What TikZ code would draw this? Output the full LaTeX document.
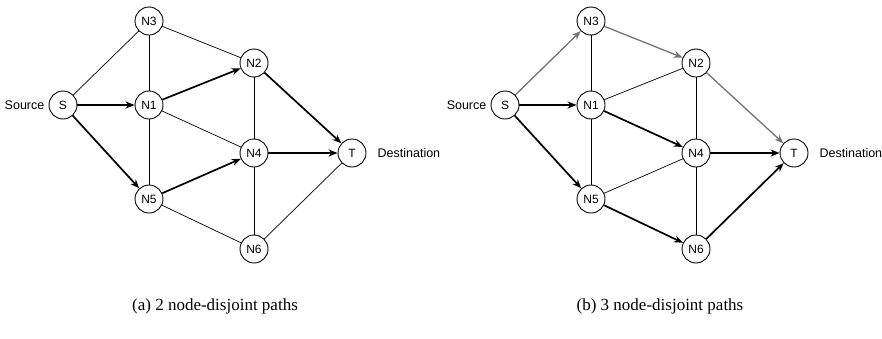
\documentclass[tikz,border=0pt]{standalone}
\usepackage{fontspec}
\setmainfont{Liberation Serif}
\newfontfamily\labelfont{Liberation Sans}
\usetikzlibrary{arrows.meta}
\begin{document}
\begin{tikzpicture}[x=1pt,y=-1pt,
  vertex/.style={circle,draw,line width=0.9pt,fill=white,minimum size=28pt,
    inner sep=0pt,font=\labelfont\fontsize{12}{13}\selectfont},
  link/.style={line width=0.7pt},
  route/.style={line width=1.7pt,-{Stealth[length=9pt,width=7pt]}},
  altroute/.style={line width=1.3pt,draw=black!55,
    -{Stealth[length=9pt,width=7pt]}},
  side/.style={font=\labelfont\fontsize{12.5}{14}\selectfont,inner sep=0pt},
  caption/.style={font=\fontsize{17}{20}\selectfont,inner sep=0pt}]
\useasboundingbox (0,0) rectangle (882,338);

% the same network is drawn in both panels; names carry the panel letter
\foreach \p/\dx in {a/0,b/442}{
  \begin{scope}[xshift=\dx]
    \node[vertex] (\p S)  at (63,105)  {S};
    \node[vertex] (\p N3) at (149,21)  {N3};
    \node[vertex] (\p N1) at (149,105) {N1};
    \node[vertex] (\p N5) at (149,199) {N5};
    \node[vertex] (\p N2) at (254,63)  {N2};
    \node[vertex] (\p N4) at (254,153) {N4};
    \node[vertex] (\p N6) at (254,249) {N6};
    \node[vertex] (\p T)  at (352,153) {T};
    \node[side,anchor=east] (\p src) at ([xshift=-4pt]\p S.west) {Source};
    \node[side,anchor=west] (\p dst) at ([xshift=11pt]\p T.east) {Destination};
  \end{scope}
}

% (a) two node-disjoint paths
\draw[link] (aS) -- (aN3);
\draw[link] (aN3) -- (aN1);
\draw[link] (aN3) -- (aN2);
\draw[link] (aN1) -- (aN5);
\draw[link] (aN1) -- (aN4);
\draw[link] (aN2) -- (aN4);
\draw[link] (aN4) -- (aN6);
\draw[link] (aN5) -- (aN6);
\draw[link] (aN6) -- (aT);
\draw[route] (aS) -- (aN1);
\draw[route] (aN1) -- (aN2);
\draw[route] (aN2) -- (aT);
\draw[route] (aS) -- (aN5);
\draw[route] (aN5) -- (aN4);
\draw[route] (aN4) -- (aT);

% (b) three node-disjoint paths
\draw[link] (bN3) -- (bN1);
\draw[link] (bN1) -- (bN2);
\draw[link] (bN1) -- (bN5);
\draw[link] (bN2) -- (bN4);
\draw[link] (bN5) -- (bN4);
\draw[link] (bN4) -- (bN6);
\draw[altroute] (bS) -- (bN3);
\draw[altroute] (bN3) -- (bN2);
\draw[altroute] (bN2) -- (bT);
\draw[route] (bS) -- (bN1);
\draw[route] (bN1) -- (bN4);
\draw[route] (bN4) -- (bT);
\draw[route] (bS) -- (bN5);
\draw[route] (bN5) -- (bN6);
\draw[route] (bN6) -- (bT);

\node[caption,anchor=base] (capa) at (215,310) {(a) 2 node-disjoint paths};
\node[caption,anchor=base] (capb) at (660,310) {(b) 3 node-disjoint paths};
\end{tikzpicture}
\end{document}
